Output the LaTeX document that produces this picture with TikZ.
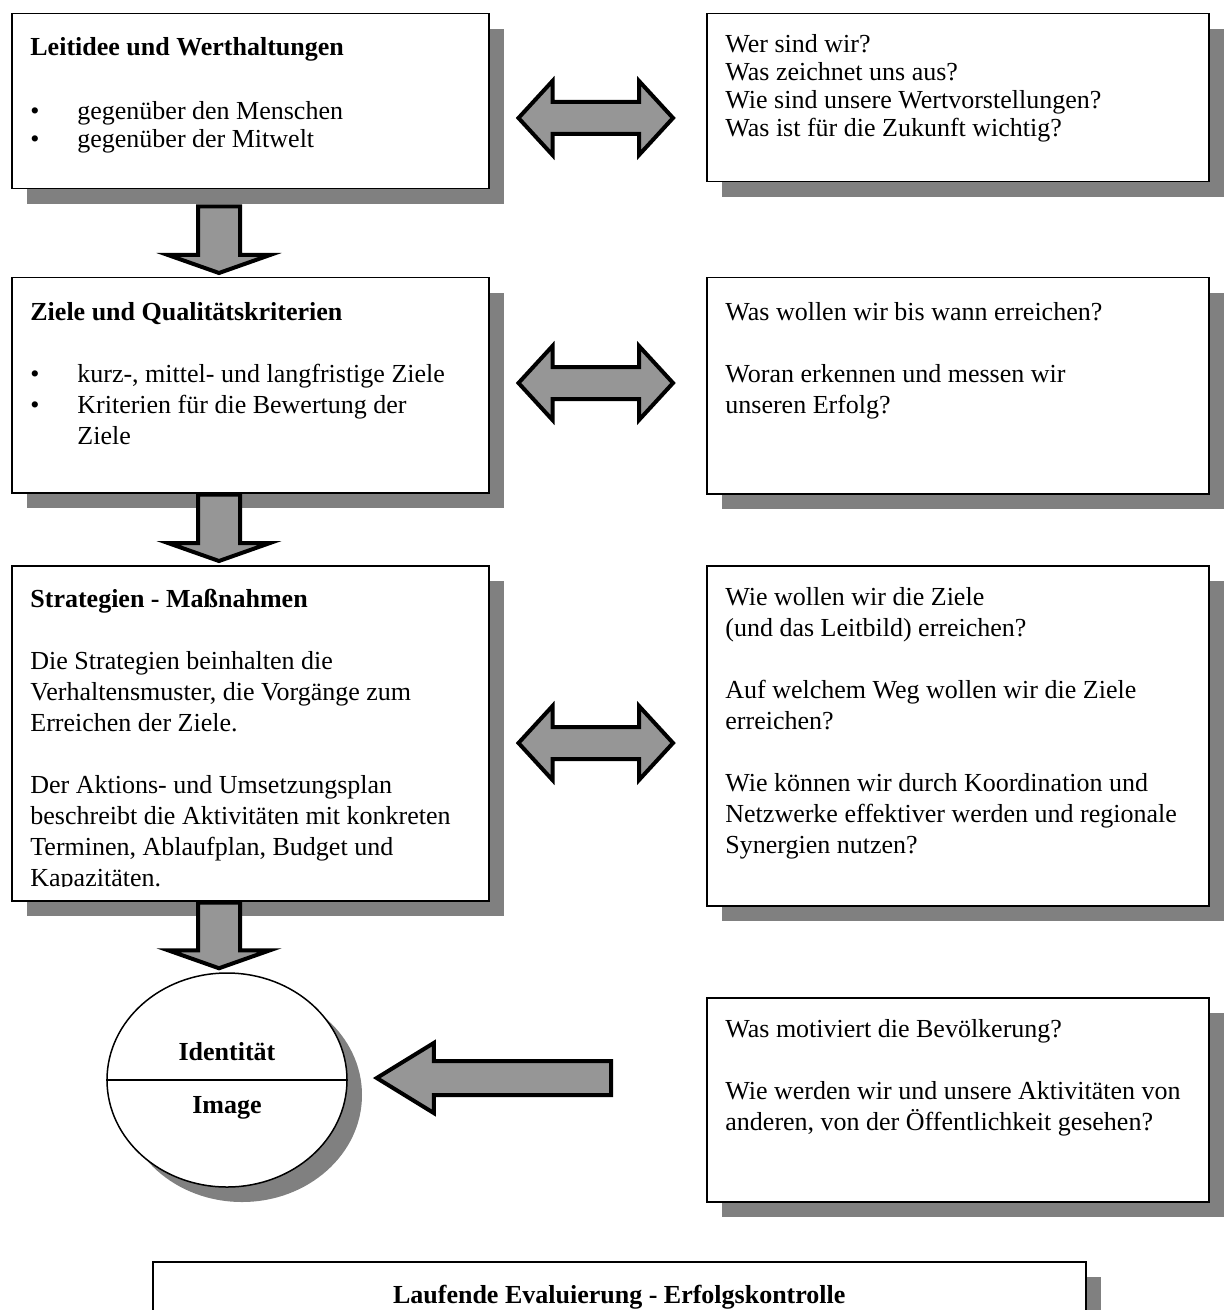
\documentclass[tikz,border=0pt]{standalone}
\usepackage{fontspec}
\setmainfont{Liberation Serif}
\usetikzlibrary{calc,shadows,shapes.geometric}
\definecolor{shadegray}{HTML}{808080}
\definecolor{arrowgray}{HTML}{969696}
\newcommand\bul{\makebox[23.5pt][l]{\textbullet}}
\newcommand\blockdown[2]{\draw[blockarrow] let \p1=(#1), \p2=(#2) in
  (\x1-10.5pt,\y1) -- (\x1+10.5pt,\y1) -- (\x1+10.5pt,\y2+9pt) -- (\x1+25.5pt,\y2+9pt)
  -- (\x2,\y2) -- (\x1-25.5pt,\y2+9pt) -- (\x1-10.5pt,\y2+9pt) -- cycle;}
\newcommand\dblarrow[2]{\draw[blockarrow] let \p1=(#1), \p2=(#2) in
  (\p1) -- (\x1+17pt,\y1+18.5pt) -- (\x1+17pt,\y1+8pt) -- (\x2-17pt,\y1+8pt) -- (\x2-17pt,\y1+18.5pt)
  -- (\p2) -- (\x2-17pt,\y1-18.5pt) -- (\x2-17pt,\y1-8pt) -- (\x1+17pt,\y1-8pt) -- (\x1+17pt,\y1-18.5pt) -- cycle;}
\newcommand\leftblock[2]{\draw[blockarrow] let \p1=(#1), \p2=(#2) in
  (\x1,\y2+8.5pt) -- (\x2+28.5pt,\y2+8.5pt) -- (\x2+28.5pt,\y2+17.5pt) -- (\p2)
  -- (\x2+28.5pt,\y2-17.5pt) -- (\x2+28.5pt,\y2-8.5pt) -- (\x1,\y2-8.5pt) -- cycle;}
\tikzset{
  shade/.style={drop shadow={shadow xshift=7.5pt,shadow yshift=-7.5pt,fill=shadegray,opacity=1}},
  box/.style={draw,line width=0.75pt,fill=white,rectangle,anchor=north west,inner sep=0pt,shade},
  txt/.style={anchor=north west,align=left,inner sep=0pt,font=\fontsize{13}{15.5}\selectfont},
  blockarrow/.style={draw,line width=2pt,fill=arrowgray,miter limit=10},
  bold/.style={font=\fontsize{13}{15.5}\selectfont\bfseries},
}
\begin{document}
\begin{tikzpicture}[x=0.5pt,y=-0.5pt]
\useasboundingbox (0,0) rectangle (1227,1310);

\node[box,minimum width=238.5pt,minimum height=87.5pt] (leit) at (11,13) {};
\node[box,minimum width=251pt,minimum height=84pt] (wer) at (706,13) {};
\node[box,minimum width=238.5pt,minimum height=107.5pt] (ziele) at (11,277) {};
\node[box,minimum width=251pt,minimum height=108pt] (mess) at (706,277) {};
\node[box,minimum width=238.5pt,minimum height=167.5pt] (strat) at (11,565) {};
\node[box,minimum width=251pt,minimum height=170pt] (wie) at (706,565) {};
\node[box,minimum width=251pt,minimum height=102pt] (motiv) at (706,997) {};
\node[box,minimum width=466.5pt,minimum height=60pt] (eval) at (152,1261) {};
\node[draw,line width=0.75pt,fill=white,ellipse,inner sep=0pt,shade,
      minimum width=120pt,minimum height=107pt] (ident) at (227,1080) {};
\draw[line width=0.75pt] (ident.west) -- (ident.east);

\node[txt,font=\fontsize{13}{14}\selectfont] (leittxt) at ($(leit.north west)+(19,22.4)$)
  {\strut\textbf{Leitidee und Werthaltungen}\\[18pt]
  \bul gegenüber den Menschen\\ \bul gegenüber der Mitwelt};
\node[txt,font=\fontsize{13}{14}\selectfont] (wertxt) at ($(wer.north west)+(19,19.4)$)
  {\strut Wer sind wir?\\ Was zeichnet uns aus?\\
  Wie sind unsere Wertvorstellungen?\\ Was ist für die Zukunft wichtig?};
\node[txt] (zieletxt) at ($(ziele.north west)+(19,21.3)$) {\strut\textbf{Ziele und Qualitätskriterien}\\[15.5pt]
  \bul kurz-, mittel- und langfristige Ziele\\ \bul Kriterien für die Bewertung der\\ \hspace*{23.5pt}Ziele};
\node[txt] (messtxt) at ($(mess.north west)+(19,21.3)$) {\strut Was wollen wir bis wann erreichen?\\[15.5pt]
  Woran erkennen und messen wir\\ unseren Erfolg?};
\begin{scope}
\clip (strat.north west) rectangle ($(strat.south east)+(0,-15)$);
\node[txt] (strattxt) at ($(strat.north west)+(19,20.3)$) {\strut\textbf{Strategien - Maßnahmen}\\[15.5pt]
  Die Strategien beinhalten die\\ Verhaltensmuster, die Vorgänge zum\\ Erreichen der Ziele.\\[15.5pt]
  Der Aktions- und Umsetzungsplan\\ beschreibt die Aktivitäten mit konkreten\\
  Terminen, Ablaufplan, Budget und\\ Kapazitäten.};
\end{scope}
\node[txt] (wietxt) at ($(wie.north west)+(19,18.3)$) {\strut Wie wollen wir die Ziele\\ (und das Leitbild) erreichen?\\[15.5pt]
  Auf welchem Weg wollen wir die Ziele\\ erreichen?\\[15.5pt]
  Wie können wir durch Koordination und\\ Netzwerke effektiver werden und regionale\\ Synergien nutzen?};
\node[txt] (motivtxt) at ($(motiv.north west)+(19,18.3)$) {\strut Was motiviert die Bevölkerung?\\[15.5pt]
  Wie werden wir und unsere Aktivitäten von\\ anderen, von der Öffentlichkeit gesehen?};
\node[bold] (identtxt) at ($(ident.center)+(0,-28)$) {Identität};
\node[bold] (imagetxt) at ($(ident.center)+(0,28)$) {Image};
\node[bold] (evaltxt) at ($(eval.north)+(0,36)$) {Laufende Evaluierung - Erfolgskontrolle};

\dblarrow{$(leit.north east)+(29,105)$}{$(wer.north west)+(-33,105)$}
\dblarrow{$(ziele.north east)+(29,106)$}{$(mess.north west)+(-33,106)$}
\dblarrow{$(strat.north east)+(29,178)$}{$(wie.north west)+(-33,178)$}
\blockdown{$(leit.south west)+(208,17)$}{$(ziele.north west)+(208,-4)$}
\blockdown{$(ziele.south west)+(208,1)$}{$(strat.north west)+(208,-4)$}
\blockdown{$(strat.south west)+(208,1)$}{$(ident.north)+(-8,-4)$}
\leftblock{$(motiv.north west)+(-95,81)$}{$(ident.east)+(29,-2)$}
\end{tikzpicture}
\end{document}
